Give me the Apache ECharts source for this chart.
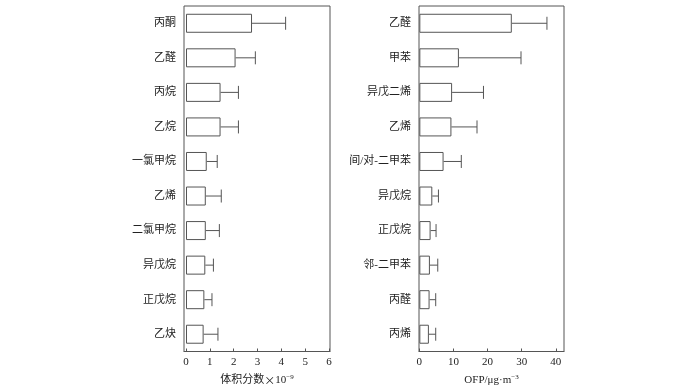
<!DOCTYPE html>
<html><head><meta charset="utf-8">
<script src="https://cdn.jsdelivr.net/npm/echarts@6/dist/echarts.min.js"></script>
<style>html,body{margin:0;padding:0;background:#fff}#c{width:700px;height:391px}</style>
</head><body><div id="c"></div>
<script>
var leftCats = ['丙酮','乙醛','丙烷','乙烷','一氯甲烷','乙烯','二氯甲烷','异戊烷','正戊烷','乙炔'];
var leftMeans = [2.77, 2.08, 1.45, 1.45, 0.87, 0.83, 0.83, 0.81, 0.77, 0.74];
var leftErrTop = [4.18, 2.91, 2.2, 2.2, 1.31, 1.48, 1.4, 1.15, 1.09, 1.34];
var leftTicks = [0,1,2,3,4,5,6];

var rightCats = ['乙醛','甲苯','异戊二烯','乙烯','间/对-二甲苯','异戊烷','正戊烷','邻-二甲苯','丙醛','丙烯'];
var rightMeans = [27.1, 11.6, 9.6, 9.4, 7.1, 3.8, 3.3, 3.1, 3.0, 2.8];
var rightErrTop = [37.4, 29.8, 18.8, 16.9, 12.3, 5.6, 4.9, 5.4, 4.8, 4.8];
var rightTicks = [0,10,20,30,40];

var FONT = "'Liberation Serif','Times New Roman','Noto Sans CJK SC',serif";
var LINE = '#555';

function errItem(params, api) {
  var mean = api.value(1), top = api.value(2), idx = api.value(0);
  var p0 = api.coord([mean, idx]);
  var p1 = api.coord([top, idx]);
  var h = 13;
  return {
    type: 'group',
    children: [
      {type:'line', shape:{x1:p0[0], y1:p0[1], x2:p1[0], y2:p1[1]}, style:{stroke:LINE, lineWidth:1}},
      {type:'line', shape:{x1:p1[0], y1:p1[1]-h/2, x2:p1[0], y2:p1[1]+h/2}, style:{stroke:LINE, lineWidth:1}}
    ]
  };
}

function xAxisCfg(gi, min, max, ticks, name) {
  return {
    gridIndex: gi, type:'value', min:min, max:max,
    splitLine:{show:false},
    axisLine:{show:true, lineStyle:{color:LINE}},
    axisTick:{show:true, inside:true, length:3, customValues:ticks, lineStyle:{color:LINE}},
    axisLabel:{customValues:ticks, color:'#222', fontFamily:FONT, fontSize:11, margin:5},
    name:name, nameLocation:'middle', nameGap:22,
    nameTextStyle:{color:'#222', fontFamily:FONT, fontSize:11,
      rich:{a:{fontFamily:FONT, fontSize:11, color:'#222'},
            x:{fontFamily:"'Noto Sans CJK SC',sans-serif", fontSize:11, color:'#222'},
            s:{fontFamily:FONT, fontSize:7, color:'#222', padding:[0,0,7,0]}}}
  };
}
function yAxisCfg(gi, cats) {
  return {
    gridIndex: gi, type:'category', data:cats, inverse:true,
    axisLine:{show:false},
    axisTick:{show:false},
    axisLabel:{color:'#222', fontFamily:FONT, fontSize:11, margin:8}
  };
}

var chart = echarts.init(document.getElementById('c'));
chart.setOption({
  animation:false,
  backgroundColor:'#fff',
  grid:[
    {left:184, top:6, width:146, height:350, show:true, borderColor:LINE, borderWidth:1, backgroundColor:'transparent'},
    {left:419, top:6, width:145, height:350, show:true, borderColor:LINE, borderWidth:1, backgroundColor:'transparent'}
  ],
  xAxis:[
    xAxisCfg(0, -0.084, 6.042, leftTicks, '{a|体积分数}{x|×}{a|10}{s|−9}'),
    xAxisCfg(1, -0.1, 42.4, rightTicks, '{a|OFP/μg·m}{s|−3}')
  ],
  yAxis:[ yAxisCfg(0, leftCats), yAxisCfg(1, rightCats) ],
  series:[
    {type:'bar', xAxisIndex:0, yAxisIndex:0, data:leftMeans, barWidth:19,
     itemStyle:{color:'#fff', borderColor:LINE, borderWidth:1}},
    {type:'custom', xAxisIndex:0, yAxisIndex:0, renderItem:errItem,
     encode:{x:[1,2], y:0},
     data:leftCats.map(function(c,i){return [i, leftMeans[i], leftErrTop[i]];})},
    {type:'bar', xAxisIndex:1, yAxisIndex:1, data:rightMeans, barWidth:19,
     itemStyle:{color:'#fff', borderColor:LINE, borderWidth:1}},
    {type:'custom', xAxisIndex:1, yAxisIndex:1, renderItem:errItem,
     encode:{x:[1,2], y:0},
     data:rightCats.map(function(c,i){return [i, rightMeans[i], rightErrTop[i]];})}
  ]
});
</script></body></html>
